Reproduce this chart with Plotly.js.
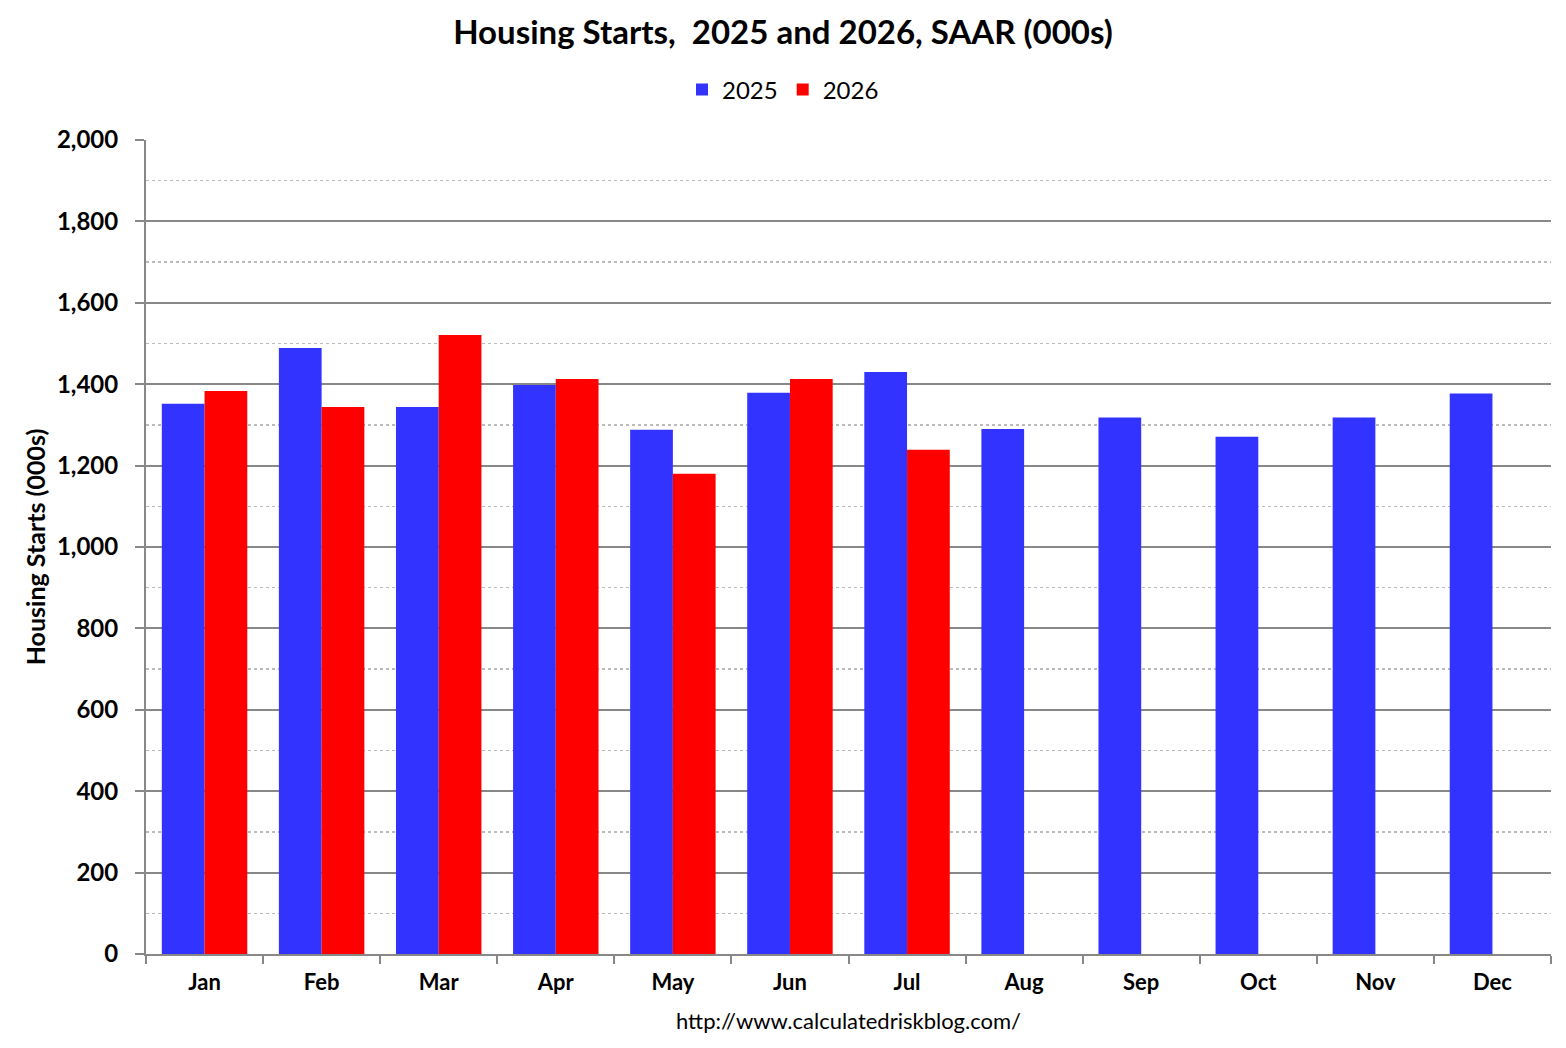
<!DOCTYPE html>
<html>
<head>
<meta charset="utf-8">
<script src="https://cdn.plot.ly/plotly-3.0.1.min.js"></script>
<style>
  html, body { margin: 0; padding: 0; background: #fff; }
  #chart { width: 1566px; height: 1048px; }
</style>
</head>
<body>
<div id="chart"></div>
<script>
// monthly starts, SAAR in thousands
const months = ["Jan", "Feb", "Mar", "Apr", "May", "Jun", "Jul", "Aug", "Sep", "Oct", "Nov", "Dec"];
const starts_2025 = [1352, 1489, 1344, 1398, 1288, 1379, 1430, 1290, 1318, 1271, 1318, 1377];
const starts_2026 = [1383, 1344, 1521, 1413, 1180, 1413, 1239, null, null, null, null, null];

const font_name = "Lato, 'Noto Sans', sans-serif";

const traces = [
    {type: 'bar', x: months, y: starts_2025, name: '2025', marker: {color: '#3333ff'}},
    {type: 'bar', x: months, y: starts_2026, name: '2026', marker: {color: '#ff0000'}}
];

const layout = {
    width: 1566,
    height: 1048,
    margin: {l: 146, r: 15, t: 140, b: 94},
    paper_bgcolor: '#fff',
    plot_bgcolor: '#fff',
    barmode: 'group',
    bargap: 0.27,
    bargroupgap: 0,
    showlegend: true,
    title: {
        text: '<b>Housing Starts,  2025 and 2026, SAAR (000s)</b>',
        font: {family: font_name, size: 33, color: '#000'},
        x: 0.5, xref: 'container', xanchor: 'center',
        y: 1 - 32 / 1048, yref: 'container', yanchor: 'middle'
    },
    legend: {
        orientation: 'h',
        x: 0.5, xref: 'container', xanchor: 'center',
        y: 1 - 90 / 1048, yref: 'container', yanchor: 'middle',
        font: {family: font_name, size: 24, color: '#000'},
        itemwidth: 30,
        tracegroupgap: 0
    },
    xaxis: {
        type: 'category',
        tickson: 'boundaries',
        ticks: 'outside',
        ticklen: 8,
        tickwidth: 2,
        tickcolor: '#888',
        showline: true,
        linecolor: '#888',
        linewidth: 2,
        showgrid: false,
        ticklabelstandoff: 8,
        tickfont: {family: font_name, size: 22, color: '#000', weight: 'bold'}
    },
    yaxis: {
        range: [0, 2000],
        dtick: 200,
        tick0: 0,
        tickformat: ',d',
        ticks: 'outside',
        ticklen: 9,
        tickwidth: 2,
        tickcolor: '#888',
        showline: true,
        linecolor: '#888',
        linewidth: 2,
        showgrid: true,
        gridcolor: '#888',
        gridwidth: 2,
        zeroline: false,
        ticklabelstandoff: 12,
        tickfont: {family: font_name, size: 24, color: '#000', weight: 'bold'},
        minor: {dtick: 100, tick0: 0, showgrid: true, gridcolor: '#bbb', gridwidth: 1.5, griddash: 'dot', ticklen: 0},
        title: {
            text: '<b>Housing Starts (000s)</b>',
            font: {family: font_name, size: 25, color: '#000'},
            standoff: 4
        }
    },
    annotations: [{
        text: 'http://www.calculatedriskblog.com/',
        xref: 'paper', yref: 'paper',
        x: (848 - 146) / 1405, y: -(1020 - 954) / 814,
        xanchor: 'center', yanchor: 'middle',
        showarrow: false,
        font: {family: font_name, size: 22, color: '#000'}
    }]
};

Plotly.newPlot('chart', traces, layout, {displayModeBar: false, staticPlot: true});
</script>
</body>
</html>
